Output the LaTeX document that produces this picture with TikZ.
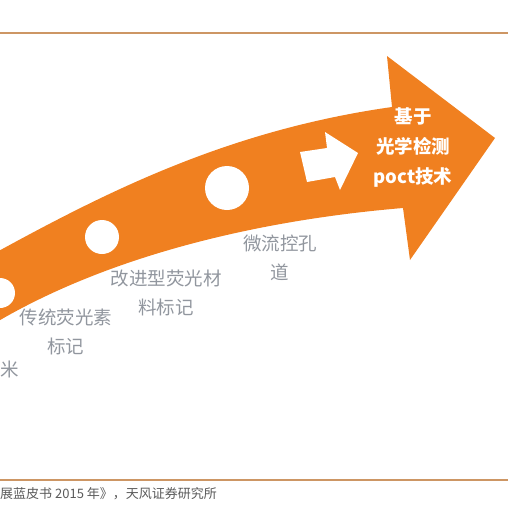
\documentclass[tikz,border=0pt]{standalone}
\usepackage{fontspec}
\newfontfamily\cjk{Noto Sans CJK SC}
\definecolor{arroworange}{RGB}{240,128,32}
\definecolor{rulebrown}{RGB}{205,150,100}
\definecolor{labelgray}{RGB}{145,150,158}
\definecolor{srcgray}{RGB}{90,90,90}

\begin{document}
\begin{tikzpicture}[x=1pt, y=-1pt,
  stage/.style={text=labelgray, font=\cjk\fontsize{18.5}{29}\selectfont, align=center, inner sep=0pt},
  goal/.style={text=white, font=\cjk\bfseries\fontsize{18.5}{30}\selectfont, align=center, inner sep=0pt},
  hole/.style={fill=white, draw=none}]
\useasboundingbox (0,0) rectangle (508,509);
\clip (0,0) rectangle (508,509);

% rules
\draw[rulebrown, line width=2pt] (0,33) -- (508,33);
\draw[rulebrown, line width=2pt] (0,480) -- (508,480);

% big arrow
\fill[arroworange] (-5,253) .. controls (110,190) and (230,130) .. (392,107)
  -- (387,56) -- (495,138) -- (410,260) -- (403,208)
  .. controls (260,220) and (110,255) .. (-5,323) -- cycle;

\fill[hole] (0,293) circle (15);
\fill[hole] (102,237) circle (17);
\fill[hole] (227,188) circle (22);
\fill[hole] (300,152) -- (327,148) -- (325,132) -- (358,153) -- (340,190)
  -- (335,177) -- (307,182) -- cycle;

% labels
\node[stage, anchor=west] (nano) at (0,369) {米};
\node[stage] (trad) at (66,332) {传统荧光素\\标记};
\node[stage] (improved) at (166,293) {改进型荧光材\\料标记};
\node[stage] (micro) at (280,258) {微流控孔\\道};
\node[goal] (poct) at (413,148) {基于\\光学检测\\poct技术};

\node[anchor=west, text=srcgray, font=\cjk\fontsize{13}{15}\selectfont, inner sep=0pt] (source) at (0,494) {展蓝皮书 2015 年》，天风证券研究所};
\end{tikzpicture}
\end{document}
